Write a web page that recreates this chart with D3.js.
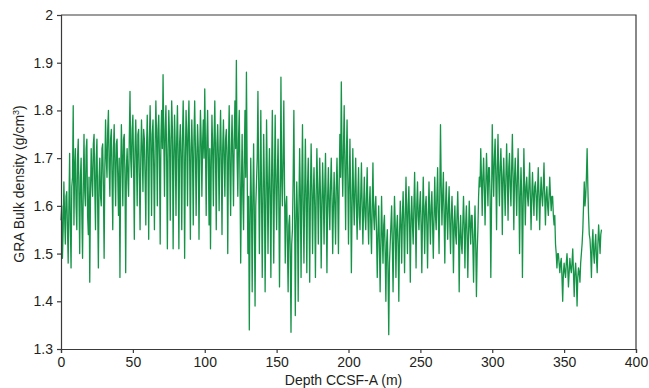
<!DOCTYPE html>
<html>
<head>
<meta charset="utf-8">
<script src="https://cdn.jsdelivr.net/npm/d3@7"></script>
<style>
  html, body { margin: 0; padding: 0; background: #fff; }
  svg { display: block; }
  text { font-family: "Liberation Sans", Arial, Helvetica, sans-serif; fill: #231f20; }
</style>
</head>
<body>
<svg id="chart" width="649" height="388"></svg>
<script>
// ---- data ----
const depthStart = 0;      // m
const depthStep = 0.5;     // m between samples
const density = [
  1.57,1.60,1.49,1.55,1.65,1.58,1.52,1.62,1.63,1.55,
  1.48,1.60,1.71,1.56,1.47,1.64,1.66,1.81,1.56,1.68,
  1.72,1.60,1.55,1.70,1.74,1.62,1.50,1.66,1.70,1.58,
  1.49,1.64,1.75,1.63,1.60,1.72,1.74,1.58,1.54,1.66,
  1.44,1.62,1.72,1.66,1.62,1.73,1.75,1.64,1.55,1.70,
  1.74,1.60,1.47,1.66,1.70,1.62,1.60,1.72,1.73,1.64,
  1.49,1.68,1.78,1.70,1.66,1.76,1.80,1.68,1.62,1.74,
  1.76,1.66,1.55,1.72,1.77,1.68,1.60,1.73,1.74,1.66,
  1.58,1.70,1.45,1.66,1.77,1.70,1.60,1.74,1.75,1.66,
  1.46,1.68,1.72,1.66,1.62,1.74,1.84,1.70,1.66,1.76,
  1.79,1.68,1.53,1.72,1.78,1.70,1.60,1.75,1.76,1.66,
  1.55,1.70,1.78,1.72,1.63,1.76,1.74,1.66,1.56,1.72,
  1.79,1.70,1.53,1.74,1.81,1.72,1.58,1.75,1.78,1.68,
  1.55,1.73,1.82,1.74,1.60,1.76,1.79,1.70,1.52,1.74,
  1.80,1.72,1.875,1.74,1.62,1.76,1.81,1.70,1.51,1.72,
  1.80,1.74,1.57,1.72,1.82,1.76,1.51,1.70,1.79,1.72,
  1.58,1.74,1.81,1.70,1.51,1.73,1.77,1.70,1.55,1.74,
  1.82,1.72,1.49,1.70,1.80,1.74,1.60,1.76,1.82,1.70,
  1.53,1.72,1.78,1.70,1.56,1.74,1.82,1.72,1.58,1.70,
  1.77,1.72,1.53,1.70,1.80,1.74,1.62,1.73,1.78,1.70,
  1.845,1.72,1.58,1.74,1.80,1.70,1.56,1.72,1.51,1.68,
  1.79,1.72,1.60,1.74,1.82,1.70,1.55,1.73,1.77,1.70,
  1.59,1.72,1.80,1.70,1.54,1.72,1.78,1.70,1.62,1.74,
  1.76,1.70,1.50,1.72,1.81,1.68,1.58,1.72,1.79,1.70,
  1.60,1.74,1.82,1.72,1.905,1.70,1.62,1.74,1.80,1.66,
  1.48,1.64,1.75,1.62,1.55,1.70,1.80,1.66,1.88,1.68,
  1.50,1.62,1.34,1.56,1.70,1.60,1.42,1.62,1.73,1.58,
  1.39,1.60,1.65,1.70,1.84,1.66,1.50,1.64,1.80,1.62,
  1.45,1.62,1.75,1.64,1.42,1.60,1.78,1.66,1.50,1.64,
  1.72,1.62,1.45,1.66,1.80,1.64,1.48,1.66,1.79,1.64,
  1.55,1.66,1.74,1.62,1.43,1.60,1.87,1.66,1.60,1.70,
  1.82,1.64,1.48,1.60,1.62,1.52,1.42,1.56,1.58,1.50,
  1.335,1.52,1.55,1.66,1.80,1.60,1.37,1.56,1.65,1.58,
  1.40,1.60,1.72,1.62,1.45,1.64,1.77,1.60,1.48,1.62,
  1.74,1.62,1.46,1.64,1.70,1.60,1.44,1.62,1.73,1.64,
  1.50,1.62,1.68,1.60,1.45,1.62,1.72,1.64,1.52,1.62,
  1.70,1.62,1.47,1.60,1.69,1.62,1.52,1.64,1.71,1.60,
  1.46,1.62,1.68,1.60,1.55,1.64,1.70,1.62,1.50,1.60,
  1.67,1.60,1.52,1.64,1.70,1.62,1.50,1.64,1.75,1.66,
  1.86,1.70,1.62,1.72,1.81,1.68,1.55,1.70,1.78,1.66,
  1.52,1.64,1.74,1.62,1.46,1.60,1.72,1.62,1.56,1.64,
  1.70,1.60,1.53,1.62,1.68,1.58,1.55,1.62,1.69,1.60,
  1.52,1.60,1.66,1.58,1.55,1.62,1.68,1.58,1.52,1.60,
  1.64,1.56,1.50,1.60,1.69,1.58,1.55,1.60,1.62,1.54,
  1.45,1.54,1.60,1.52,1.42,1.52,1.62,1.54,1.48,1.56,
  1.58,1.50,1.40,1.52,1.55,1.46,1.33,1.48,1.52,1.56,
  1.60,1.52,1.42,1.54,1.62,1.56,1.45,1.55,1.58,1.52,
  1.40,1.54,1.61,1.56,1.48,1.58,1.63,1.56,1.46,1.58,
  1.66,1.58,1.50,1.60,1.64,1.56,1.44,1.58,1.62,1.56,
  1.52,1.60,1.67,1.58,1.47,1.60,1.65,1.58,1.55,1.60,
  1.63,1.56,1.46,1.58,1.66,1.58,1.50,1.60,1.62,1.56,
  1.47,1.58,1.65,1.58,1.52,1.60,1.63,1.56,1.49,1.58,
  1.66,1.58,1.55,1.62,1.68,1.58,1.50,1.62,1.77,1.64,
  1.56,1.62,1.67,1.58,1.48,1.60,1.65,1.58,1.53,1.60,
  1.64,1.56,1.50,1.58,1.62,1.56,1.46,1.56,1.60,1.54,
  1.52,1.58,1.63,1.56,1.42,1.54,1.58,1.52,1.50,1.56,
  1.62,1.56,1.47,1.56,1.60,1.54,1.45,1.54,1.61,1.56,
  1.52,1.58,1.58,1.52,1.44,1.54,1.60,1.52,1.41,1.50,
  1.55,1.62,1.66,1.64,1.72,1.66,1.58,1.66,1.70,1.64,
  1.56,1.64,1.71,1.66,1.60,1.68,1.68,1.62,1.45,1.60,
  1.77,1.68,1.62,1.70,1.74,1.66,1.55,1.68,1.75,1.66,
  1.60,1.68,1.72,1.66,1.54,1.66,1.70,1.64,1.58,1.66,
  1.73,1.66,1.57,1.68,1.71,1.64,1.60,1.68,1.75,1.66,
  1.55,1.66,1.70,1.64,1.58,1.66,1.72,1.64,1.50,1.62,
  1.68,1.62,1.45,1.60,1.72,1.64,1.56,1.64,1.66,1.62,
  1.60,1.64,1.69,1.62,1.55,1.62,1.67,1.62,1.58,1.64,
  1.65,1.62,1.57,1.63,1.68,1.62,1.55,1.62,1.66,1.62,
  1.60,1.64,1.69,1.62,1.56,1.62,1.64,1.60,1.58,1.62,
  1.66,1.62,1.59,1.62,1.62,1.58,1.56,1.58,1.52,1.50,
  1.47,1.50,1.50,1.48,1.46,1.48,1.49,1.45,1.40,1.46,
  1.48,1.46,1.45,1.48,1.50,1.47,1.43,1.46,1.49,1.47,
  1.46,1.48,1.51,1.46,1.41,1.46,1.48,1.45,1.39,1.45,
  1.47,1.46,1.44,1.48,1.50,1.52,1.55,1.60,1.65,1.60,
  1.62,1.66,1.72,1.64,1.58,1.54,1.53,1.50,1.45,1.52,
  1.55,1.50,1.48,1.52,1.54,1.49,1.46,1.52,1.56,1.53,
  1.50,1.54,1.55
];
const xTicks = [0, 50, 100, 150, 200, 250, 300, 350, 400];
const yTicks = [1.3, 1.4, 1.5, 1.6, 1.7, 1.8, 1.9, 2];
const xLabel = "Depth CCSF-A (m)";

// ---- layout ----
const svg = d3.select("#chart");
const m = { left: 61, right: 636, top: 15, bottom: 349 };
const x = d3.scaleLinear().domain([0, 400]).range([m.left, m.right]);
const y = d3.scaleLinear().domain([1.3, 2]).range([m.bottom, m.top]);

const points = density.map((v, i) => [depthStart + i * depthStep, v]);

// frame (top & right)
svg.append("path")
  .attr("d", `M${m.left},${m.top}H${m.right}V${m.bottom}`)
  .attr("fill", "none").attr("stroke", "#3a3a3a").attr("stroke-width", 1.2);

// data line
svg.append("path")
  .datum(points)
  .attr("fill", "none")
  .attr("stroke", "#159447")
  .attr("stroke-width", 1.3)
  .attr("stroke-linejoin", "round")
  .attr("d", d3.line().x(d => x(d[0])).y(d => y(d[1])));

// axes
const xAxis = svg.append("g")
  .attr("transform", `translate(0,${m.bottom})`)
  .call(d3.axisBottom(x).tickValues(xTicks).tickSize(4).tickPadding(4).tickFormat(d3.format("d")));
const yAxis = svg.append("g")
  .attr("transform", `translate(${m.left},0)`)
  .call(d3.axisLeft(y).tickValues(yTicks).tickSize(4).tickPadding(4).tickFormat(d => d === 2 ? "2" : d3.format(".1f")(d)));

[xAxis, yAxis].forEach(g => {
  g.select(".domain").attr("stroke", "#3a3a3a").attr("stroke-width", 1.2);
  g.selectAll(".tick line").attr("stroke", "#3a3a3a").attr("stroke-width", 1.2);
  g.selectAll(".tick text").attr("font-size", 14).attr("fill", "#231f20")
    .style("font-family", '"Liberation Sans", Arial, sans-serif');
});

// axis titles
svg.append("text")
  .attr("x", (m.left + m.right) / 2 - 5).attr("y", 385)
  .attr("text-anchor", "middle").attr("font-size", 14)
  .text(xLabel);

const yt = svg.append("text")
  .attr("transform", `translate(24,${(m.top + m.bottom) / 2 + 2}) rotate(-90)`)
  .attr("text-anchor", "middle").attr("font-size", 14);
yt.append("tspan").text("GRA Bulk density (g/cm");
yt.append("tspan").attr("font-size", 9).attr("dy", -5).text("3");
yt.append("tspan").attr("dy", 5).text(")");
</script>
</body>
</html>
